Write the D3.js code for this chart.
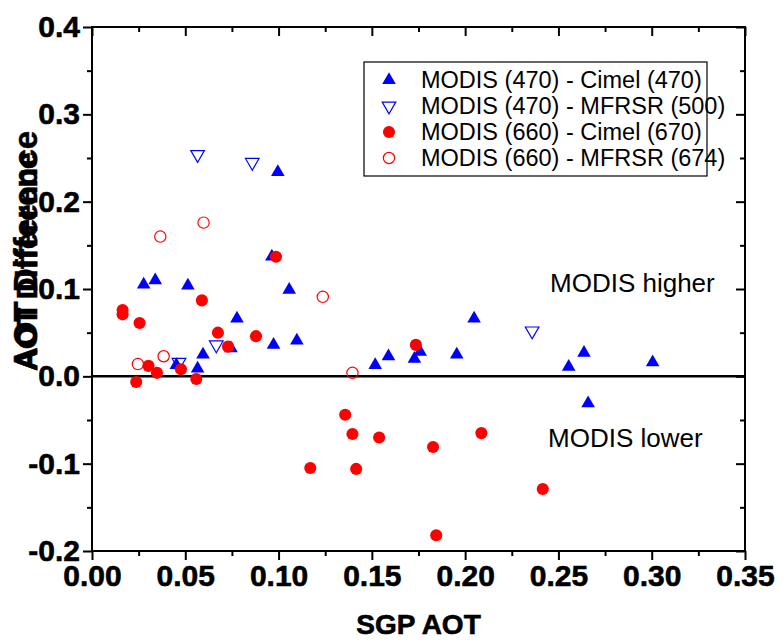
<!DOCTYPE html>
<html>
<head>
<meta charset="utf-8">
<style>
  body { margin: 0; background: #fff; }
  text { font-family: "Liberation Sans", Arial, sans-serif; }
</style>
</head>
<body>
<script src="https://cdn.jsdelivr.net/npm/d3@7"></script>
<script>
// data: [SGP AOT, AOT difference]
var cimel470 = [
  [0.0277, 0.105], [0.0339, 0.110], [0.0514, 0.104], [0.0996, 0.234],
  [0.0964, 0.137], [0.1057, 0.099], [0.0777, 0.066], [0.0745, 0.032],
  [0.0595, 0.025], [0.0566, 0.009], [0.0973, 0.036], [0.1098, 0.041],
  [0.0452, 0.013], [0.1518, 0.013], [0.1589, 0.023], [0.1728, 0.020],
  [0.1759, 0.028], [0.1955, 0.025], [0.2048, 0.066], [0.2555, 0.011],
  [0.2637, 0.027], [0.2659, -0.031], [0.3005, 0.016]
];
var mfrsr500 = [
  [0.0566, 0.254], [0.0859, 0.245], [0.0666, 0.036], [0.0466, 0.016],
  [0.2359, 0.052]
];
var cimel670 = [
  [0.0164, 0.076], [0.0164, 0.071], [0.0255, 0.061], [0.0589, 0.087],
  [0.0986, 0.137], [0.0675, 0.050], [0.0729, 0.034], [0.0879, 0.046],
  [0.0303, 0.012], [0.0348, 0.004], [0.0477, 0.008], [0.0237, -0.0065],
  [0.0559, -0.003], [0.1736, 0.036], [0.1357, -0.044], [0.1396, -0.066],
  [0.1539, -0.070], [0.1416, -0.106], [0.1170, -0.105], [0.1828, -0.081],
  [0.1845, -0.182], [0.2087, -0.065], [0.2416, -0.129]
];
var mfrsr674 = [
  [0.0366, 0.160], [0.0598, 0.176], [0.1237, 0.091], [0.0384, 0.023],
  [0.0246, 0.014], [0.1396, 0.004]
];
var legendLabels = [
  'MODIS (470) - Cimel (470)',
  'MODIS (470) - MFRSR (500)',
  'MODIS (660) - Cimel (670)',
  'MODIS (660) - MFRSR (674)'
];
var xTicks = [0, 0.05, 0.1, 0.15, 0.2, 0.25, 0.3, 0.35];
var yTicks = [-0.2, -0.1, 0, 0.1, 0.2, 0.3, 0.4];

var W = 782, H = 641;
var m = { left: 92, right: 745, top: 27, bottom: 551 };

var svg = d3.select('body').append('svg')
  .attr('width', W)
  .attr('height', H);

var x = d3.scaleLinear().domain([0, 0.35]).range([m.left, m.right]);
var y = d3.scaleLinear().domain([-0.2, 0.4]).range([m.bottom, m.top]);

var blue = '#0000ff', red = '#ff0000';
var series = [
  { data: cimel470, type: d3.symbolTriangle, size: 80, rot: 0, fill: blue, stroke: 'none' },
  { data: mfrsr500, type: d3.symbolTriangle, size: 80, rot: 180, fill: 'none', stroke: blue },
  { data: cimel670, type: d3.symbolCircle, size: 115, rot: 0, fill: red, stroke: 'none' },
  { data: mfrsr674, type: d3.symbolCircle, size: 100, rot: 0, fill: 'none', stroke: red }
];

// axes with minor ticks
var minorX = d3.range(0.025, 0.35, 0.05);
var minorY = d3.range(-0.15, 0.4, 0.1);

function fmtX(d) { return d3.format('.2f')(d).replace('\u2212', '-'); }
function fmtY(d) { return d3.format('.1f')(d).replace('\u2212', '-'); }

// bottom
svg.append('g').attr('transform', 'translate(0,' + m.bottom + ')')
  .call(d3.axisBottom(x).tickValues(xTicks).tickFormat(fmtX).tickSize(9).tickSizeOuter(0).tickPadding(5))
  .call(g => g.select('.domain').remove());
svg.append('g').attr('transform', 'translate(0,' + m.bottom + ')')
  .call(d3.axisBottom(x).tickValues(minorX).tickFormat('').tickSize(5).tickSizeOuter(0))
  .call(g => g.select('.domain').remove());
// left
svg.append('g').attr('transform', 'translate(' + m.left + ',0)')
  .call(d3.axisLeft(y).tickValues(yTicks).tickFormat(fmtY).tickSize(9).tickSizeOuter(0).tickPadding(3))
  .call(g => g.select('.domain').remove());
svg.append('g').attr('transform', 'translate(' + m.left + ',0)')
  .call(d3.axisLeft(y).tickValues(minorY).tickFormat('').tickSize(5).tickSizeOuter(0))
  .call(g => g.select('.domain').remove());
// top (inward)
svg.append('g').attr('transform', 'translate(0,' + m.top + ')')
  .call(d3.axisBottom(x).tickValues(xTicks).tickFormat('').tickSize(9).tickSizeOuter(0))
  .call(g => g.select('.domain').remove());
svg.append('g').attr('transform', 'translate(0,' + m.top + ')')
  .call(d3.axisBottom(x).tickValues(minorX).tickFormat('').tickSize(5).tickSizeOuter(0))
  .call(g => g.select('.domain').remove());
// right (inward)
svg.append('g').attr('transform', 'translate(' + m.right + ',0)')
  .call(d3.axisLeft(y).tickValues(yTicks).tickFormat('').tickSize(9).tickSizeOuter(0))
  .call(g => g.select('.domain').remove());
svg.append('g').attr('transform', 'translate(' + m.right + ',0)')
  .call(d3.axisLeft(y).tickValues(minorY).tickFormat('').tickSize(5).tickSizeOuter(0))
  .call(g => g.select('.domain').remove());

svg.selectAll('.tick line').attr('stroke', '#000').attr('stroke-width', 2);
svg.selectAll('.tick text')
  .attr('fill', '#000')
  .attr('stroke', '#000')
  .attr('stroke-width', 0.6)
  .style('font-family', '"Liberation Sans", Arial, sans-serif')
  .style('font-size', '30px')
  .style('font-weight', 'bold');

// frame
svg.append('rect')
  .attr('x', m.left).attr('y', m.top)
  .attr('width', m.right - m.left).attr('height', m.bottom - m.top)
  .attr('fill', 'none').attr('stroke', '#000').attr('stroke-width', 2);

// zero line
svg.append('line')
  .attr('x1', x(0)).attr('x2', x(0.35))
  .attr('y1', y(0)).attr('y2', y(0))
  .attr('stroke', '#000').attr('stroke-width', 2.5);

// points
series.forEach(function(s) {
  svg.append('g').selectAll('path')
    .data(s.data)
    .join('path')
      .attr('d', d3.symbol().type(s.type).size(s.size))
      .attr('transform', d => 'translate(' + x(d[0]) + ',' + y(d[1]) + ') rotate(' + s.rot + ')')
      .attr('fill', s.fill)
      .attr('stroke', s.stroke)
      .attr('stroke-width', 1.2);
});

// legend
var lg = svg.append('g');
lg.append('rect')
  .attr('x', 364).attr('y', 62).attr('width', 343).attr('height', 114)
  .attr('fill', '#fff').attr('stroke', '#000').attr('stroke-width', 1.2);
legendLabels.forEach(function(lab, i) {
  var s = series[i];
  var ly = 80 + i * 26;
  lg.append('path')
    .attr('d', d3.symbol().type(s.type).size(s.size)())
    .attr('transform', 'translate(389,' + ly + ') rotate(' + s.rot + ')')
    .attr('fill', s.fill)
    .attr('stroke', s.stroke)
    .attr('stroke-width', 1.2);
  lg.append('text')
    .attr('x', 421).attr('y', ly)
    .attr('dy', '0.36em')
    .style('font-size', '23.5px')
    .text(lab);
});

// annotations
svg.append('text').attr('x', 550).attr('y', 292)
  .style('font-size', '26px').text('MODIS higher');
svg.append('text').attr('x', 548).attr('y', 447)
  .style('font-size', '26px').text('MODIS lower');

// axis titles
svg.append('text')
  .attr('x', (m.left + m.right) / 2).attr('y', 634)
  .attr('text-anchor', 'middle')
  .attr('stroke', '#000').attr('stroke-width', 0.6)
  .style('font-size', '28px').style('font-weight', 'bold')
  .text('SGP AOT');
[33, 30].forEach(function(fs) {
  svg.append('text')
    .attr('transform', 'translate(37,371) rotate(-90)')
    .attr('stroke', '#000').attr('stroke-width', 0.5)
    .style('font-size', fs + 'px').style('font-weight', 'bold')
    .text('AOT Difference');
});
</script>
</body>
</html>
